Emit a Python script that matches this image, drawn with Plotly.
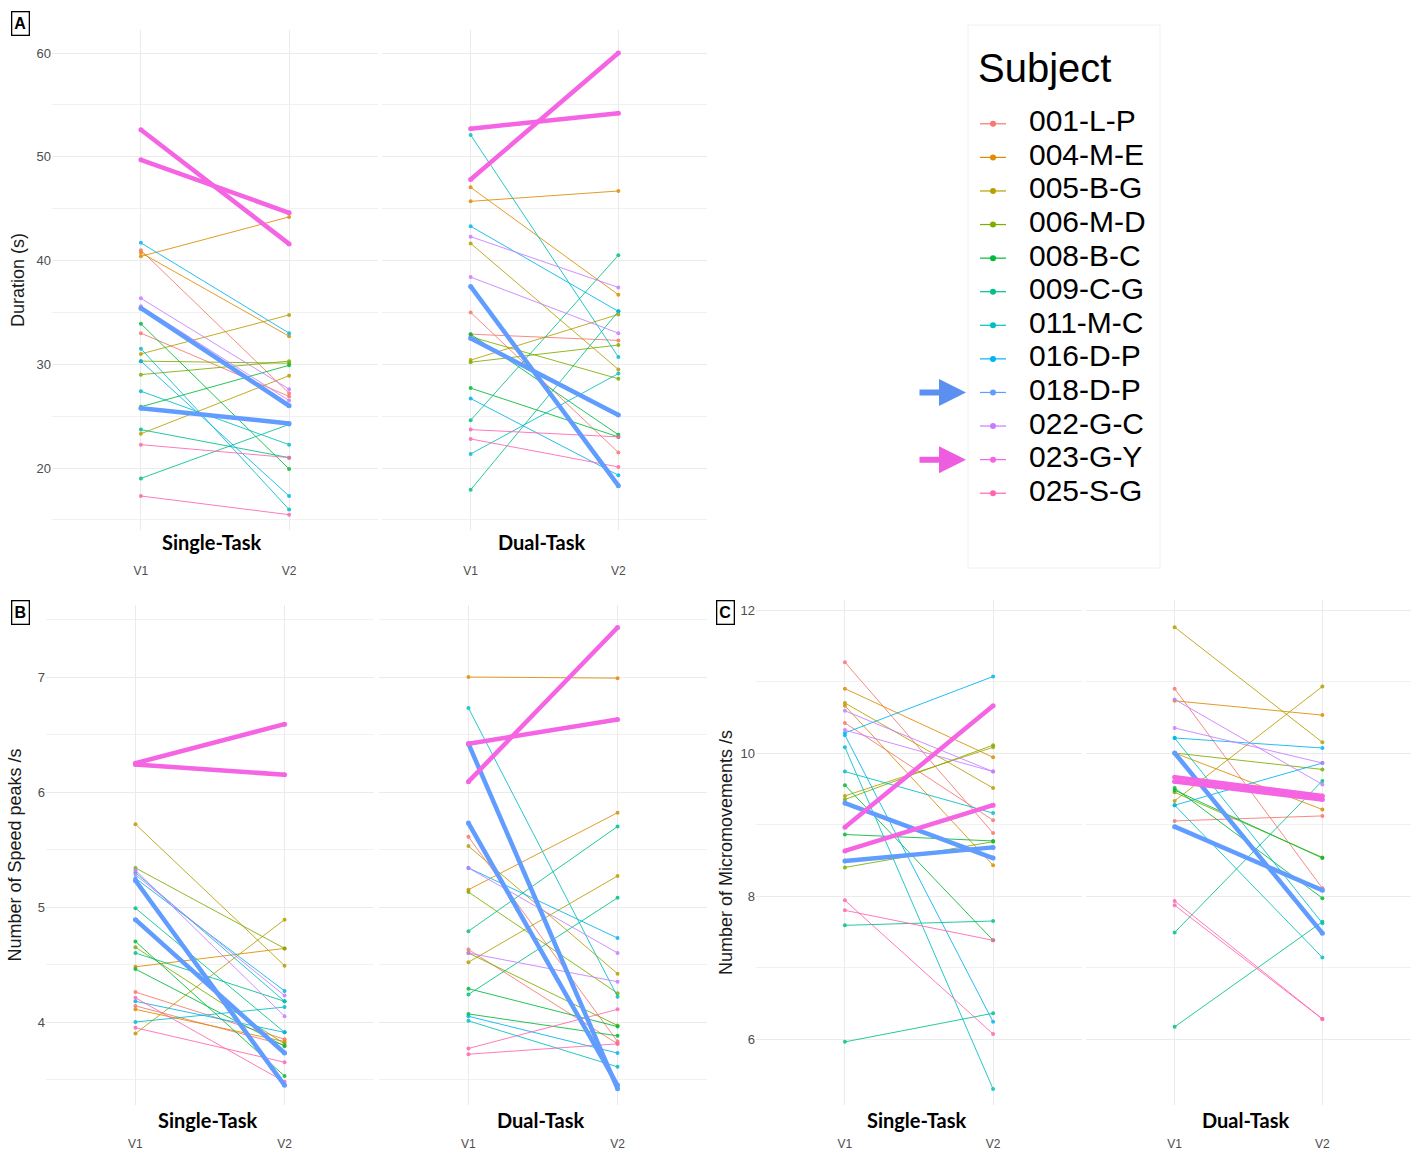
import plotly.graph_objects as go

W, H = 1418, 1151

subjects = ["001-L-P", "004-M-E", "005-B-G", "006-M-D", "008-B-C", "009-C-G",
            "011-M-C", "016-D-P", "018-D-P", "022-G-C", "023-G-Y", "025-S-G"]
colors = ["#F8766D", "#DE8C00", "#B79F00", "#7CAE00", "#00BA38", "#00C08B",
          "#00BFC4", "#00B4F0", "#619CFF", "#C77CFF", "#F564E3", "#FF64B0"]
highlight = ["018-D-P", "023-G-Y"]
visits = ["V1", "V2"]
tasks = ["Single-Task", "Dual-Task"]

# two recordings per subject, ordered subject by subject
dur_single_v1 = [33.0, 41.0, 40.4, 40.75, 31.0, 23.3, 29.0, 30.3, 33.9, 25.9, 19.0, 23.7,
                 31.5, 27.4, 41.7, 30.3, 35.4, 25.75, 36.35, 35.6, 52.6, 49.7, 22.25, 17.3]
dur_single_v2 = [26.9, 27.2, 44.2, 32.7, 34.75, 28.9, 30.3, 30.1, 19.9, 29.9, 24.2, 21.0,
                 16.0, 22.25, 33.0, 17.3, 26.0, 24.3, 27.6, 26.5, 41.6, 44.6, 21.0, 15.5]
dur_dual_v1 = [35.0, 32.9, 45.7, 47.05, 41.65, 30.4, 30.2, 32.65, 32.9, 27.7, 24.6, 17.9,
               52.1, 21.35, 43.3, 26.7, 37.5, 32.5, 42.3, 38.4, 47.8, 52.7, 23.7, 22.8]
dur_dual_v2 = [21.5, 32.3, 46.7, 36.7, 29.5, 34.8, 31.85, 28.6, 23.2, 23.0, 40.5, 35.1,
               30.7, 29.1, 35.1, 19.3, 18.3, 25.1, 37.4, 33.0, 60.0, 54.2, 23.0, 20.1]

peaks_single_v1 = [4.26, 4.14, 4.11, 4.48, 5.72, 3.90, 5.34, 4.65, 4.70, 4.46, 4.60, 4.99,
                   4.00, 5.30, 5.25, 4.18, 5.23, 4.89, 5.28, 5.32, 6.25, 6.24, 3.95, 4.21]
peaks_single_v2 = [3.85, 3.80, 3.83, 4.64, 4.49, 4.89, 4.64, 3.81, 3.53, 3.79, 4.18, 3.91,
                   4.13, 4.18, 4.27, 3.91, 3.45, 3.73, 4.23, 4.05, 6.59, 6.15, 3.65, 3.48]
peaks_dual_v1 = [5.61, 4.63, 7.00, 5.15, 5.53, 4.52, 5.13, 4.60, 4.29, 4.07, 4.79, 4.24,
                 6.73, 4.01, 5.34, 4.05, 6.42, 5.73, 5.34, 4.60, 6.09, 6.42, 3.77, 3.72]
peaks_dual_v2 = [3.83, 3.81, 6.99, 5.82, 4.42, 5.27, 4.25, 3.97, 3.96, 3.88, 5.70, 5.08,
                 4.22, 3.61, 4.73, 3.73, 3.42, 3.45, 4.60, 4.35, 7.43, 6.63, 4.11, 3.81]

micro_single_v1 = [11.27, 10.42, 10.90, 10.66, 10.70, 9.40, 9.35, 8.40, 9.55, 8.86, 7.59, 5.96,
                   10.08, 9.74, 10.28, 10.25, 9.30, 8.49, 10.59, 10.32, 8.96, 8.63, 7.94, 7.80]
micro_single_v2 = [8.88, 9.06, 9.94, 8.43, 9.51, 10.08, 10.11, 8.76, 7.38, 8.77, 7.65, 6.36,
                   5.30, 9.16, 11.07, 6.24, 8.53, 8.68, 9.74, 9.74, 10.66, 9.27, 6.07, 7.38]
micro_dual_v1 = [10.90, 9.05, 10.73, 10.00, 11.76, 9.33, 10.00, 9.45, 9.51, 9.48, 7.49, 6.17,
                 9.27, 10.21, 10.21, 9.27, 10.00, 8.97, 10.75, 10.35, 9.66, 9.60, 7.93, 7.87]
micro_dual_v2 = [8.11, 9.12, 10.53, 9.21, 10.15, 10.93, 9.77, 8.54, 7.97, 8.53, 9.61, 7.64,
                 7.14, 7.62, 10.07, 9.86, 7.48, 8.08, 9.56, 9.86, 9.40, 9.35, 6.28, 6.28]

line_subject = [s for s in subjects for _ in range(2)]
color_of = dict(zip(subjects, colors))

FONT = "Liberation Sans, Arial, sans-serif"
STRIP_FONT = "Lato, Liberation Sans, sans-serif"
TICK_COL = "#4D4D4D"
GRID = "#EBEBEB"


def pxx(a, b):
    return [a / W, b / W]


def pxy(top, bottom):
    return [1 - bottom / H, 1 - top / H]


fig = go.Figure()

facets = [
    ("x", "y", dur_single_v1, dur_single_v2),
    ("x2", "y2", dur_dual_v1, dur_dual_v2),
    ("x3", "y3", peaks_single_v1, peaks_single_v2),
    ("x4", "y4", peaks_dual_v1, peaks_dual_v2),
    ("x5", "y5", micro_single_v1, micro_single_v2),
    ("x6", "y6", micro_dual_v1, micro_dual_v2),
]

for thick_pass in (False, True):
    for xa, ya, v1, v2 in facets:
        for k, subj in enumerate(line_subject):
            is_thick = subj in highlight
            if is_thick != thick_pass:
                continue
            c = color_of[subj]
            fig.add_trace(go.Scatter(
                x=visits, y=[v1[k], v2[k]], xaxis=xa, yaxis=ya,
                mode="lines+markers",
                line=dict(color=c, width=4.5 if is_thick else 1),
                marker=dict(color=c, size=5 if is_thick else 4),
                opacity=1 if is_thick else 0.85,
                showlegend=False, hoverinfo="skip", name=subj,
            ))

# ---- custom legend (built from the subject list) ----
leg_idx = list(range(len(subjects)))
for i, s in enumerate(subjects):
    fig.add_trace(go.Scatter(x=[70, 96], y=[i, i], xaxis="x7", yaxis="y7",
                             mode="lines", line=dict(color=colors[i], width=1.2),
                             showlegend=False, hoverinfo="skip"))
fig.add_trace(go.Scatter(x=[83] * len(subjects), y=leg_idx, xaxis="x7", yaxis="y7",
                         mode="markers", marker=dict(color=colors, size=6),
                         showlegend=False, hoverinfo="skip"))
fig.add_trace(go.Scatter(x=[119] * len(subjects), y=leg_idx, xaxis="x7", yaxis="y7",
                         mode="text", text=subjects, textposition="middle right",
                         textfont=dict(family=FONT, size=30, color="#000000"),
                         showlegend=False, hoverinfo="skip"))

# ---- axes ----
def xaxis(domain, standoff):
    return dict(domain=domain, type="category", range=[-0.6, 1.6],
                showgrid=True, gridcolor=GRID, gridwidth=1, showline=False,
                zeroline=False, ticks="", ticklabelstandoff=standoff,
                tickfont=dict(family=FONT, size=12, color=TICK_COL))


def yaxis(domain, rng, dtick, minor, show, title=None, standoff=6, anchor=None):
    d = dict(domain=domain, range=rng, dtick=dtick, tick0=0,
             showgrid=True, gridcolor=GRID, gridwidth=1,
             minor=dict(dtick=minor, tick0=0, showgrid=True, gridcolor="#F1F1F1", gridwidth=0.8),
             showline=False, zeroline=False, ticks="", showticklabels=show,
             tickfont=dict(family=FONT, size=13, color=TICK_COL))
    if anchor:
        d["anchor"] = anchor
    if title:
        d["title"] = dict(text=title, standoff=standoff,
                          font=dict(family=FONT, size=18, color="#1A1A1A"))
    return d


A_Y = pxy(30, 530)
B_Y = pxy(605, 1105)
C_Y = pxy(600, 1105)
A_R = [60 - (530 - 53) / 10.375, 60 + (53 - 30) / 10.375]
B_R = [4 - (1105 - 1022) / 115.0, 7 + (677 - 605) / 115.0]
C_R = [6 - (1105 - 1039) / 71.5, 12 + (610 - 600) / 71.5]

fig.update_layout(
    xaxis=dict(xaxis(pxx(52, 378), 32), anchor="y"),
    xaxis2=dict(xaxis(pxx(382, 707), 32), anchor="y2"),
    xaxis3=dict(xaxis(pxx(46, 374), 30), anchor="y3"),
    xaxis4=dict(xaxis(pxx(379, 707), 30), anchor="y4"),
    xaxis5=dict(xaxis(pxx(756, 1082), 30), anchor="y5"),
    xaxis6=dict(xaxis(pxx(1086, 1411), 30), anchor="y6"),
    yaxis=yaxis(A_Y, A_R, 10, 5, True, "Duration (s)", 7, "x"),
    yaxis2=yaxis(A_Y, A_R, 10, 5, False, anchor="x2"),
    yaxis3=yaxis(B_Y, B_R, 1, 0.5, True, "Number of Speed peaks /s", 11, "x3"),
    yaxis4=yaxis(B_Y, B_R, 1, 0.5, False, anchor="x4"),
    yaxis5=yaxis(C_Y, C_R, 2, 1, True, "Number of Micromovements /s", 3, "x5"),
    yaxis6=yaxis(C_Y, C_R, 2, 1, False, anchor="x6"),
    xaxis7=dict(domain=pxx(910, 1160), range=[0, 250], visible=False, anchor="y7"),
    yaxis7=dict(domain=pxy(107, 510), range=[11.5, -0.5], visible=False, anchor="x7"),
)

annotations = []
# facet strips (below panels)
strip_rows = [("xaxis", 542), ("xaxis2", 542), ("xaxis3", 1120),
              ("xaxis4", 1120), ("xaxis5", 1120), ("xaxis6", 1120)]
for j, (key, ypx) in enumerate(strip_rows):
    dom = fig.layout[key].domain
    annotations.append(dict(text="<b>%s</b>" % tasks[j % 2], xref="paper", yref="paper",
                            x=(dom[0] + dom[1]) / 2 - 3 / W, y=1 - ypx / H, showarrow=False,
                            xanchor="center", yanchor="middle",
                            font=dict(family=STRIP_FONT, size=20, color="#000000")))

# panel letters
for letter, cx, cy in [("A", 20, 24), ("B", 20, 612), ("C", 725, 612)]:
    annotations.append(dict(text="<b>%s</b>" % letter, xref="paper", yref="paper",
                            x=cx / W, y=1 - cy / H, showarrow=False,
                            xanchor="center", yanchor="middle", width=14, height=20,
                            bordercolor="#000000", borderwidth=1.3, borderpad=1,
                            bgcolor="#FFFFFF",
                            font=dict(family=FONT, size=16, color="#000000")))

# legend title
annotations.append(dict(text="Subject", xref="paper", yref="paper", x=976 / W, y=1 - 68 / H,
                        showarrow=False, xanchor="left", yanchor="middle",
                        font=dict(family=FONT, size=40, color="#000000")))

# arrows pointing at highlighted subjects
for s, col in zip(highlight, ["#5B8FF0", "#EE5CE0"]):
    annotations.append(dict(text="", x=56, y=subjects.index(s), xref="x7", yref="y7",
                            ax=-48, ay=0, showarrow=True, arrowhead=2, arrowsize=0.9,
                            arrowwidth=6, arrowcolor=col))

fig.update_layout(
    annotations=annotations,
    shapes=[dict(type="rect", xref="paper", yref="paper", x0=968 / W, x1=1160 / W,
                 y0=1 - 568 / H, y1=1 - 25 / H, line=dict(color="#F0F0F0", width=1))],
    width=W, height=H, margin=dict(l=0, r=0, t=0, b=0),
    paper_bgcolor="#FFFFFF", plot_bgcolor="#FFFFFF",
    font=dict(family=FONT),
)

fig.write_html("out.html", config={"displayModeBar": False},
               post_script="document.body.style.margin='0';")
